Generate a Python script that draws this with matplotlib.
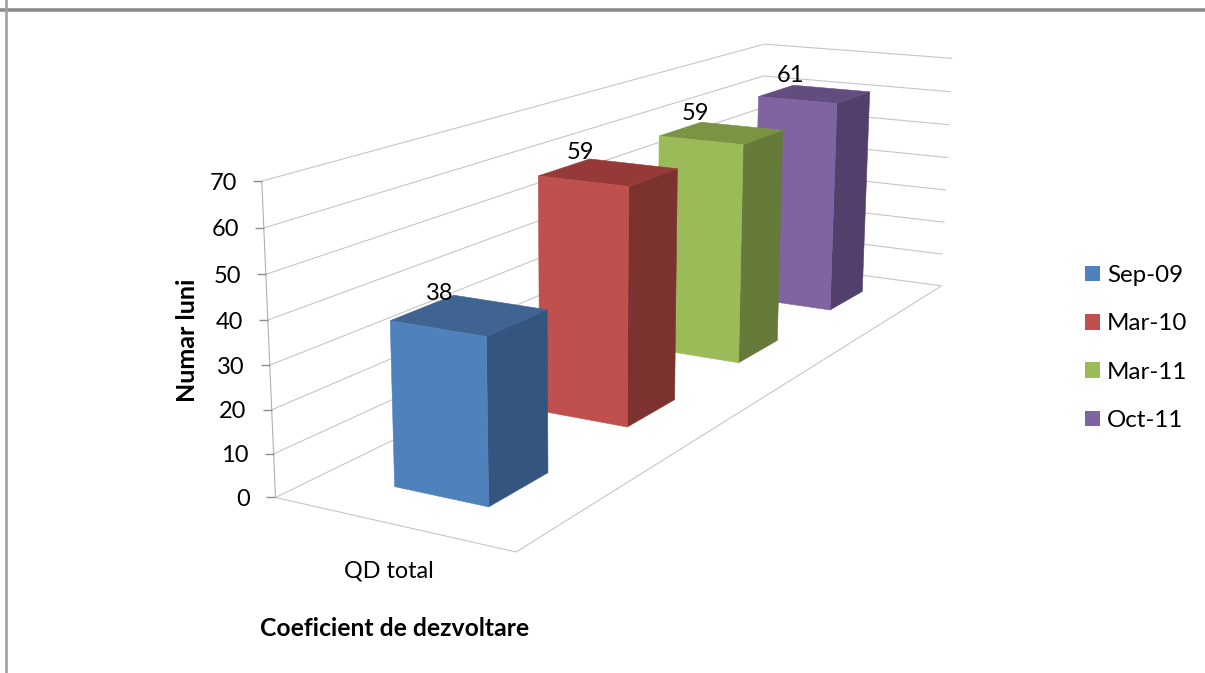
import numpy as np
import matplotlib
matplotlib.use("Agg")
import matplotlib.pyplot as plt
from matplotlib.patches import Polygon, Rectangle

# ---- data ----
categories = ["QD total"]
series_names = ["Sep-09", "Mar-10", "Mar-11", "Oct-11"]
values = [38, 59, 59, 61]
z_ticks = [0, 10, 20, 30, 40, 50, 60, 70]
x_title = "Coeficient de dezvoltare"
y_title = "Numar luni"

# ---- colours ----
front_colors = ["#4F81BD", "#C0504D", "#9BBB59", "#8064A2"]
top_colors = ["#3F6491", "#953A38", "#7B9443", "#634D7E"]
side_colors = ["#34567E", "#7C322F", "#667A39", "#533F6C"]

ZMAX = 70.0
BAR_X0, BAR_X1 = 0.30, 0.70
SLOT_LO, SLOT_HI = 0.30, 0.70

W, H = 1205, 673
plt.rcParams["font.family"] = ["Lato", "DejaVu Sans"]
fig = plt.figure(figsize=(W / 100, H / 100), dpi=100)
ax = fig.add_axes([0, 0, 1, 1])
ax.set_xlim(0, W)
ax.set_ylim(H, 0)
ax.axis("off")


def slot(i):
    return (i + SLOT_LO) / 4, (i + SLOT_HI) / 4


# ---- camera calibration: fit a pinhole projection for the 3-D box ----
calib = []
left_x = [275.3, 273.3, 271.3, 269.3, 267.3, 266.0, 264.3, 262.3]
left_y = [497.7, 454, 410, 365, 320, 274, 228, 181]
right_x = [941, 942.7, 945, 946, 947.3, 949.3, 951, 952.7]
right_y = [286, 254.7, 222.7, 190, 157.3, 124.7, 91.7, 58]
for k, z in enumerate(z_ticks):
    calib.append(((0, 0, z), (left_x[k], left_y[k])))
    calib.append(((1, 1, z), (right_x[k], right_y[k])))
calib += [((1, 0, 0), (515.3, 552.3)), ((0, 1, 70), (764, 44)), ((0, 1, 60), (764, 75.7))]
bar_px = [
    dict(fl=(390.3, 321), fr=(486, 336), br=(546.7, 311), bl=(456.7, 296),
         gfl=(394.3, 486.7), gfr=(488.3, 506.7), gbr=(547.3, 472.3)),
    dict(fl=(538.3, 176), fr=(628.7, 186), br=(677, 169), bl=(588.3, 159.3),
         gfr=(628, 427), gbr=(677, 397)),
    dict(fl=(659, 136), fr=(743, 144.3), br=(782.7, 131), bl=(701, 122.7),
         gfr=(738.3, 362.7), gbr=(777.3, 341)),
    dict(fl=(758.3, 96.3), fr=(836.7, 102.7), br=(869.7, 92), bl=(793.3, 85.3),
         gfr=(830, 310), gbr=(862.3, 291.7)),
]
for i, d in enumerate(bar_px):
    y0, y1 = slot(i)
    v = values[i]
    m = dict(fl=(BAR_X0, y0, v), fr=(BAR_X1, y0, v), br=(BAR_X1, y1, v), bl=(BAR_X0, y1, v),
             gfl=(BAR_X0, y0, 0), gfr=(BAR_X1, y0, 0), gbr=(BAR_X1, y1, 0))
    for key, px in d.items():
        calib.append((m[key], px))

rows = []
for (X, Y, Z), (u, v) in calib:
    u, v = u / 1000, v / 1000
    p = [X, Y, Z / ZMAX, 1]
    rows.append(p + [0, 0, 0, 0] + [-u * c for c in p])
    rows.append([0, 0, 0, 0] + p + [-v * c for c in p])
_, _, vt = np.linalg.svd(np.array(rows, float))
P = vt[-1].reshape(3, 4)


def project(x, y, z):
    q = P @ np.array([x, y, z / ZMAX, 1.0])
    return q[0] / q[2] * 1000, q[1] / q[2] * 1000


def poly(points, **kw):
    ax.add_patch(Polygon([project(*p) for p in points], closed=True, **kw))


def seg(a, b, color, lw=0.8, zorder=1):
    pa, pb = project(*a), project(*b)
    ax.plot([pa[0], pb[0]], [pa[1], pb[1]], color=color, lw=lw, zorder=zorder,
            solid_capstyle="butt")


# ---- page frame ----
ax.plot([0, W], [10, 10], color="#8C8C8C", lw=2.6, zorder=1)
ax.plot([6.3, 6.3], [0, H], color="#A0A0A0", lw=1.9, zorder=1)

# ---- walls / grid ----
GRID = "#C6C6C6"
AXC = "#8E8E8E"
FS = 16.8
NUM_FS = 17.0
for z in z_ticks:
    seg((0, 0, z), (0, 1, z), GRID)
    seg((0, 1, z), (1, 1, z), GRID)
seg((0, 0, 0), (1, 0, 0), GRID)
seg((1, 0, 0), (1, 1, 0), GRID)
seg((0, 0, 0), (0, 0, ZMAX), "#B0B0B0")
for z in z_ticks:
    px, py = project(0, 0, z)
    ax.plot([px - 9, px], [py, py], color=AXC, lw=1.0, zorder=2, solid_capstyle="butt")
    ax.text(px - 25, py + 2, str(z), ha="right", va="center", fontsize=NUM_FS, color="black")

# ---- bars, back to front ----
for i in reversed(range(len(values))):
    y0, y1 = slot(i)
    v = values[i]
    zo = 5 + (len(values) - i)
    x0, x1 = BAR_X0, BAR_X1
    poly([(x1, y0, 0), (x1, y1, 0), (x1, y1, v), (x1, y0, v)],
         facecolor=side_colors[i], edgecolor=side_colors[i], lw=0.4, zorder=zo)
    poly([(x0, y0, v), (x1, y0, v), (x1, y1, v), (x0, y1, v)],
         facecolor=top_colors[i], edgecolor=top_colors[i], lw=0.4, zorder=zo)
    poly([(x0, y0, 0), (x1, y0, 0), (x1, y0, v), (x0, y0, v)],
         facecolor=front_colors[i], edgecolor=front_colors[i], lw=0.4, zorder=zo)

# ---- bar value labels ----
for i, v in enumerate(values):
    y0, y1 = slot(i)
    px, py = project((BAR_X0 + BAR_X1) / 2 - 0.125, (y0 + y1) / 2, v)
    ax.text(px, py - 17, str(v), ha="center", va="center", fontsize=NUM_FS, color="black", zorder=20)

# ---- category and axis titles ----
ax.text(388.5, 571, categories[0], ha="center", va="center", fontsize=FS, color="black")
ax.text(395, 628, x_title, ha="center", va="center", fontsize=17.8, fontweight="bold", color="black")
ax.text(187.5, 340, y_title, ha="center", va="center", rotation=90, fontsize=18.0, fontweight="bold", color="black")

# ---- legend ----
handles = [Rectangle((0, 0), 1, 1, facecolor=c, edgecolor="none") for c in front_colors]
LFS = 17.4
fs_px = LFS * 100 / 72
ax.legend(handles, series_names, loc="upper left", bbox_to_anchor=(1085, 265),
          bbox_transform=ax.transData, frameon=False, fontsize=LFS, borderpad=0, borderaxespad=0,
          handlelength=15 / fs_px, handleheight=15 / fs_px, handletextpad=7 / fs_px,
          labelspacing=1.13)

fig.savefig("out.png", dpi=100)
